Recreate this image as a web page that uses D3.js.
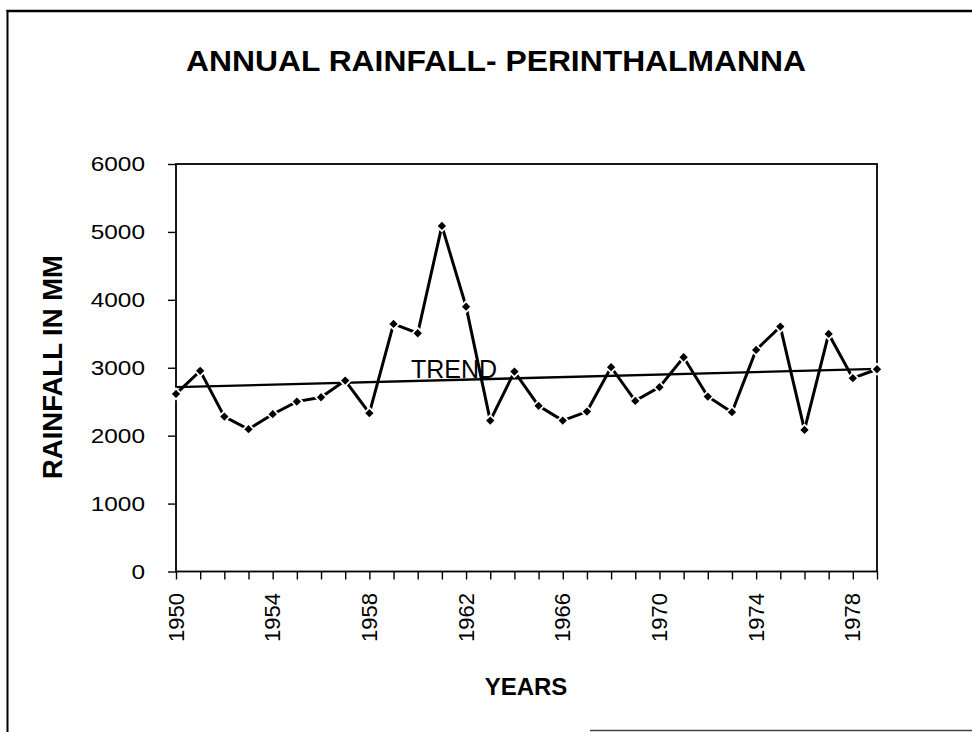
<!DOCTYPE html>
<html>
<head>
<meta charset="utf-8">
<script src="https://cdn.jsdelivr.net/npm/d3@7"></script>
<style>
  html, body { margin: 0; padding: 0; background: #fff; }
  svg { display: block; font-family: "Liberation Sans", Arial, sans-serif; }
</style>
</head>
<body>
<svg id="chart" width="972" height="732"></svg>
<script>
// Annual rainfall at Perinthalmanna, 1950-1979, with a linear trend line.

// data ───────────────────────────────────────────────────────────────
var years = [1950, 1951, 1952, 1953, 1954, 1955, 1956, 1957, 1958, 1959,
             1960, 1961, 1962, 1963, 1964, 1965, 1966, 1967, 1968, 1969,
             1970, 1971, 1972, 1973, 1974, 1975, 1976, 1977, 1978, 1979];
var rainfall = [2615, 2954, 2281, 2095, 2316, 2502, 2566, 2811, 2331, 3645,
                3508, 5088, 3900, 2222, 2943, 2439, 2222, 2355, 3008, 2512,
                2714, 3155, 2576, 2346, 3263, 3606, 2085, 3498, 2846, 2978];
var trendYears = [1950, 1979];
var trendValues = [2714, 2983];
var yTicks = [0, 1000, 2000, 3000, 4000, 5000, 6000];
var xTickLabels = [1950, 1954, 1958, 1962, 1966, 1970, 1974, 1978];

var svg = d3.select("#chart");

// outer frame (scanned page: left + top edge, part of the bottom)
svg.append("line").attr("x1", 7.5).attr("x2", 7.5).attr("y1", 10).attr("y2", 732)
  .attr("stroke", "#000").attr("stroke-width", 2);
svg.append("line").attr("x1", 6.5).attr("x2", 972).attr("y1", 11).attr("y2", 11)
  .attr("stroke", "#000").attr("stroke-width", 2.5);
svg.append("line").attr("x1", 590).attr("x2", 972).attr("y1", 730.5).attr("y2", 730.5)
  .attr("stroke", "#444").attr("stroke-width", 1.5);

// scales
var x = d3.scaleLinear().domain([1950, 1979]).range([176, 877]);
var y = d3.scaleLinear().domain([0, 6000]).range([571.5, 164]);

// title
svg.append("text")
  .attr("x", 496).attr("y", 71)
  .attr("text-anchor", "middle")
  .attr("font-size", "30px").attr("font-weight", "bold")
  .attr("textLength", 620).attr("lengthAdjust", "spacingAndGlyphs")
  .text("ANNUAL RAINFALL- PERINTHALMANNA");

// plot box
svg.append("rect")
  .attr("x", x(1950)).attr("y", y(6000))
  .attr("width", x(1979) - x(1950)).attr("height", y(0) - y(6000))
  .attr("fill", "none").attr("stroke", "#000").attr("stroke-width", 1.8);

// y axis: ticks from d3, labels drawn a little wider like the scan
var yAxis = svg.append("g")
  .attr("transform", "translate(" + x(1950) + ",0)")
  .call(d3.axisLeft(y).tickValues(yTicks).tickSize(8).tickFormat(""));
yAxis.select(".domain").remove();
yAxis.selectAll("line").attr("stroke", "#000").attr("stroke-width", 1.4);

svg.append("g").selectAll("text")
  .data(yTicks)
  .join("text")
  .attr("transform", function (d) { return "translate(145," + y(d) + ") scale(1.22,1)"; })
  .attr("dy", "0.35em")
  .attr("text-anchor", "end")
  .attr("font-size", "20px")
  .text(d3.format("d"));

// x axis: a tick every year, label every fourth
var xAxis = svg.append("g")
  .attr("transform", "translate(0," + y(0) + ")")
  .call(d3.axisBottom(x).tickValues(years).tickSize(8).tickFormat(""));
xAxis.select(".domain").remove();
xAxis.selectAll("line").attr("stroke", "#000").attr("stroke-width", 1.4);

svg.append("g").selectAll("text")
  .data(xTickLabels)
  .join("text")
  .attr("transform", function (d) { return "translate(" + (x(d) + 7.5) + ",593) rotate(-90)"; })
  .attr("text-anchor", "end")
  .attr("font-size", "22px")
  .text(function (d) { return d; });

// axis titles
svg.append("text")
  .attr("transform", "translate(62,367) rotate(-90)")
  .attr("text-anchor", "middle")
  .attr("font-size", "27.5px").attr("font-weight", "bold")
  .text("RAINFALL IN MM");

svg.append("text")
  .attr("x", 526).attr("y", 695)
  .attr("text-anchor", "middle")
  .attr("font-size", "24px").attr("font-weight", "bold")
  .text("YEARS");

// trend line
svg.append("line")
  .attr("x1", x(trendYears[0])).attr("y1", y(trendValues[0]))
  .attr("x2", x(trendYears[1])).attr("y2", y(trendValues[1]))
  .attr("stroke", "#000").attr("stroke-width", 2.4);

svg.append("text")
  .attr("x", 411).attr("y", 378)
  .attr("font-size", "25px")
  .text("TREND");

// rainfall series
var line = d3.line()
  .x(function (d, i) { return x(years[i]); })
  .y(function (d) { return y(d); });

svg.append("path")
  .datum(rainfall)
  .attr("d", line)
  .attr("fill", "none")
  .attr("stroke", "#000")
  .attr("stroke-width", 3)
  .attr("stroke-linejoin", "miter");

// diamond markers with a white halo (gives the broken look near each point)
var diamond = d3.symbol().type(d3.symbolDiamond2).size(44);
svg.append("g").selectAll("path")
  .data(rainfall)
  .join("path")
  .attr("transform", function (d, i) { return "translate(" + x(years[i]) + "," + y(d) + ")"; })
  .attr("d", diamond)
  .attr("fill", "#000")
  .attr("stroke", "#fff")
  .attr("stroke-width", 3.5)
  .attr("paint-order", "stroke");
</script>
</body>
</html>
